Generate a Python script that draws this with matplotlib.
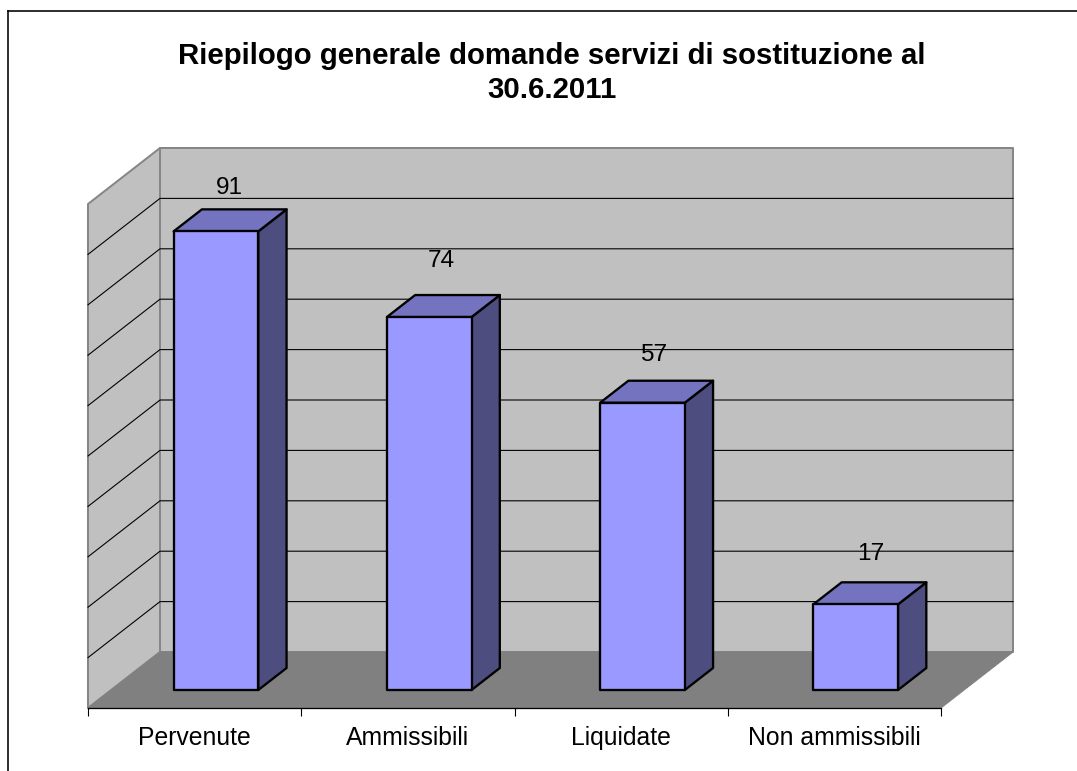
import matplotlib
matplotlib.use('Agg')
import matplotlib.pyplot as plt
from matplotlib.lines import Line2D
from matplotlib.patches import Polygon

plt.rcParams['font.family'] = ['Liberation Sans', 'DejaVu Sans']

# ------------ Data ------------------

categories = ['Pervenute', 'Ammissibili', 'Liquidate', 'Non ammissibili']
values = [91, 74, 57, 17]
grid_values = [10, 20, 30, 40, 50, 60, 70, 80, 90]
y_max = 100

# ------------ 3D look, all in data units ------------------

W, H = 1077, 771
px = 1 / 100 * 72  # one pixel in points

wall_dx = 72 / 213.25  # how far back the wall sits, in categories
wall_dy = 56 / 5.04    # and in value units
bar_left = 0.293
bar_width = 0.397
bar_front = 18 / 56    # depth fractions of the bar
bar_back = 40 / 56

label_dx = [-0.076, -0.086, -0.09, -0.07]
label_dy = [4.2, 6.8, 5.2, 5.6]


def at(x, v, depth=0.0):
	return (x + wall_dx * depth, v + wall_dy * depth)


def face(ax, points, color, edge='black', lw=2.3, z=5):
	ax.add_patch(Polygon([at(*p) for p in points], closed=True, facecolor=color,
		edgecolor=edge, linewidth=lw * px, joinstyle='round', zorder=z, clip_on=False))


fig = plt.figure(figsize=(W / 100, H / 100), dpi=100)
ax = fig.add_axes([88 / W, 1 - 708 / H, (941 - 88) / W, (708 - 204) / H])
ax.set_xlim(0, len(categories))
ax.set_ylim(0, y_max)
ax.patch.set_visible(False)

n = len(categories)
grey = '#868686'

# walls and floor
face(ax, [(0, 0, 1), (n, 0, 1), (n, y_max, 1), (0, y_max, 1)], '#C0C0C0', grey, 2, 1)
face(ax, [(0, 0, 0), (0, 0, 1), (0, y_max, 1), (0, y_max, 0)], '#C0C0C0', grey, 2, 1)

# gridlines on the two walls
for v in grid_values:
	xs, ys = zip(at(0, v, 0), at(0, v, 1), at(n, v, 1))
	ax.plot(xs, ys, color='black', lw=1.1 * px, zorder=2, clip_on=False)

face(ax, [(0, 0, 0), (n, 0, 0), (n, 0, 1), (0, 0, 1)], '#808080', '#808080', 1, 3)

# bars
for i, v in enumerate(values):
	x0 = i + bar_left
	x1 = x0 + bar_width
	face(ax, [(x1, 0, bar_front), (x1, 0, bar_back), (x1, v, bar_back), (x1, v, bar_front)], '#4D4D80')
	face(ax, [(x0, v, bar_front), (x1, v, bar_front), (x1, v, bar_back), (x0, v, bar_back)], '#7373BF')
	face(ax, [(x0, 0, bar_front), (x1, 0, bar_front), (x1, v, bar_front), (x0, v, bar_front)], '#9999FF')
	lx, ly = at(i + 0.5 + label_dx[i], v + label_dy[i], bar_back)
	ax.text(lx, ly, str(v), ha='center', va='center', fontsize=17.6, color='black', zorder=6)

# category axis
for side in ['left', 'right', 'top']:
	ax.spines[side].set_visible(False)
ax.spines['bottom'].set_linewidth(1.3 * px)
ax.spines['bottom'].set_zorder(4)
ax.set_yticks([])
ax.set_xticks(range(n + 1))
ax.set_xticklabels([])
ax.set_xticks([i + 0.5 for i in range(n)], minor=True)
ax.set_xticklabels(categories, minor=True, fontsize=17.8)
ax.tick_params(axis='x', which='major', length=8 * px, width=1.1 * px, direction='out')
ax.tick_params(axis='x', which='minor', length=0, pad=18 * px)

# title
fig.text(552 / W, 1 - 73 / H, 'Riepilogo generale domande servizi di sostituzione al\n30.6.2011',
	ha='center', va='center', fontsize=21.2, fontweight='bold', linespacing=1.28)

# chart area frame, cut off by the image on the right and bottom
fig.add_artist(Line2D([8 / W, 8 / W], [0, 1 - 11 / H], color='black', lw=1.6 * px))
fig.add_artist(Line2D([8 / W, 1], [1 - 11 / H, 1 - 11 / H], color='black', lw=1.6 * px))

fig.savefig('out.png', dpi=100)
